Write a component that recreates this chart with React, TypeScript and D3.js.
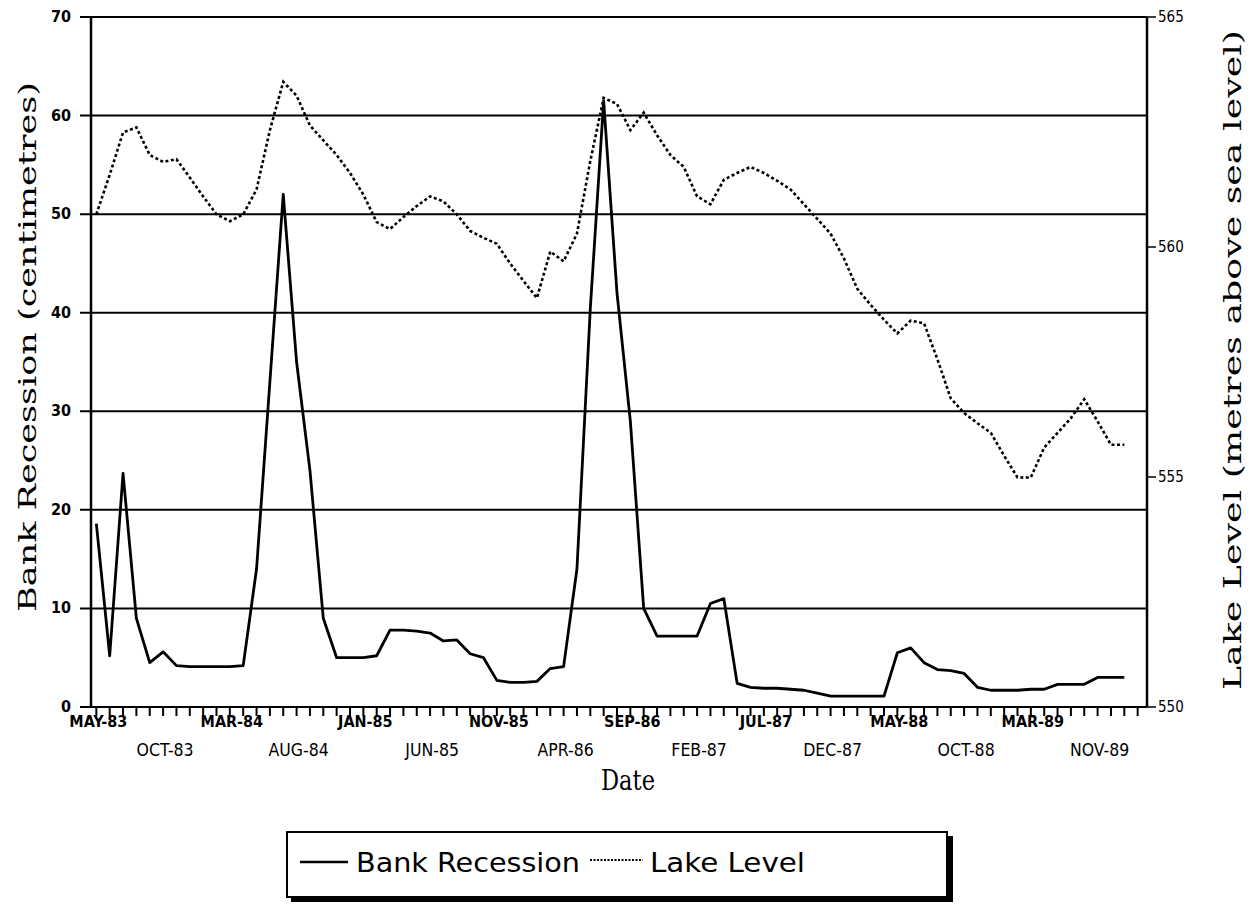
import React, { useEffect, useRef } from "react";
import * as d3 from "d3";

// tick labels under the x axis, one for every 5th reading
const DATE_LABELS = [
	"MAY-83", "OCT-83", "MAR-84", "AUG-84", "JAN-85", "JUN-85", "NOV-85", "APR-86",
	"SEP-86", "FEB-87", "JUL-87", "DEC-87", "MAY-88", "OCT-88", "MAR-89", "NOV-89",
];

// bank recession, centimetres (left axis)
const BANK_RECESSION = [
	18.6, 5.2, 23.7, 9.0, 4.5, 5.6, 4.2, 4.1, 4.1, 4.1,
	4.1, 4.2, 14.0, 33.0, 52.0, 35.0, 24.0, 9.0, 5.0, 5.0,
	5.0, 5.2, 7.8, 7.8, 7.7, 7.5, 6.7, 6.8, 5.4, 5.0,
	2.7, 2.5, 2.5, 2.6, 3.9, 4.1, 14.0, 40.4, 61.5, 42.0,
	29.0, 10.0, 7.2, 7.2, 7.2, 7.2, 10.5, 11.0, 2.4, 2.0,
	1.9, 1.9, 1.8, 1.7, 1.4, 1.1, 1.1, 1.1, 1.1, 1.1,
	5.5, 6.0, 4.5, 3.8, 3.7, 3.4, 2.0, 1.7, 1.7, 1.7,
	1.8, 1.8, 2.3, 2.3, 2.3, 3.0, 3.0, 3.0,
];

// lake level, metres above sea level (right axis)
const LAKE_LEVEL = [
	560.71, 561.57, 562.49, 562.6, 562.0, 561.85, 561.91, 561.51, 561.1, 560.71,
	560.56, 560.71, 561.25, 562.54, 563.59, 563.29, 562.64, 562.32, 562.0, 561.61,
	561.14, 560.54, 560.39, 560.65, 560.89, 561.1, 560.99, 560.71, 560.35, 560.2,
	560.07, 559.64, 559.26, 558.89, 559.9, 559.69, 560.29, 561.87, 563.24, 563.11,
	562.54, 562.92, 562.43, 562.0, 561.74, 561.1, 560.93, 561.46, 561.61, 561.74,
	561.61, 561.44, 561.25, 560.93, 560.61, 560.29, 559.75, 559.09, 558.74, 558.42,
	558.12, 558.4, 558.34, 557.56, 556.71, 556.39, 556.17, 555.96, 555.46, 554.99,
	554.99, 555.64, 555.96, 556.28, 556.69, 556.21, 555.7, 555.7,
];

const LEFT_TICKS = [0, 10, 20, 30, 40, 50, 60, 70];
const RIGHT_TICKS = [550, 555, 560, 565];
const N_TICKS = 79; // monthly tick marks along the x axis

const SANS = "'DejaVu Sans Condensed', 'Liberation Sans Narrow', 'DejaVu Sans', sans-serif";
const SERIF = "'DejaVu Serif', 'Liberation Serif', serif";

export default function App() {
	const ref = useRef<SVGSVGElement>(null);

	useEffect(() => {
		if (!ref.current) return;
		const svg = d3.select(ref.current);
		svg.selectAll("*").remove();

		const left = 91, right = 1147, top = 17, bottom = 707;

		const x = d3.scaleLinear().domain([-0.4, 78.7]).range([left, right]);
		const yL = d3.scaleLinear().domain([0, 70]).range([bottom, top]);
		const yR = d3.scaleLinear().domain([550, 565]).range([bottom, top]);

		// gridlines (with a short outward tick on the left)
		svg.append("g")
			.selectAll("line")
			.data(LEFT_TICKS)
			.enter()
			.append("line")
			.attr("x1", left - 11)
			.attr("x2", right)
			.attr("y1", (d) => yL(d))
			.attr("y2", (d) => yL(d))
			.attr("stroke", "#000")
			.attr("stroke-width", 2);

		svg.append("g")
			.selectAll("text")
			.data(LEFT_TICKS)
			.enter()
			.append("text")
			.attr("x", left - 20)
			.attr("y", (d) => yL(d) + 5)
			.attr("text-anchor", "end")
			.attr("font-family", SANS)
			.attr("font-weight", "bold")
			.attr("font-size", 16)
			.text((d) => d);

		// axes
		svg.append("line")
			.attr("x1", left).attr("x2", left)
			.attr("y1", top).attr("y2", bottom)
			.attr("stroke", "#000").attr("stroke-width", 2.5);
		svg.append("line")
			.attr("x1", right).attr("x2", right)
			.attr("y1", top).attr("y2", bottom)
			.attr("stroke", "#000").attr("stroke-width", 2.5);

		const rightAxis = svg.append("g")
			.selectAll("g")
			.data(RIGHT_TICKS)
			.enter()
			.append("g");
		rightAxis.append("line")
			.attr("x1", right).attr("x2", right + 9)
			.attr("y1", (d) => yR(d)).attr("y2", (d) => yR(d))
			.attr("stroke", "#000").attr("stroke-width", 1.5);
		rightAxis.append("text")
			.attr("x", right + 11)
			.attr("y", (d) => yR(d) + 5)
			.attr("font-family", SANS)
			.attr("font-size", 15)
			.text((d) => d);

		// monthly ticks
		svg.append("g")
			.selectAll("line")
			.data(d3.range(N_TICKS))
			.enter()
			.append("line")
			.attr("x1", (d) => x(d)).attr("x2", (d) => x(d))
			.attr("y1", bottom).attr("y2", bottom + 9)
			.attr("stroke", "#000").attr("stroke-width", 2);

		svg.append("g")
			.selectAll("text")
			.data(DATE_LABELS)
			.enter()
			.append("text")
			.attr("x", (d, i) => x(i * 5) + 2)
			.attr("y", (d, i) => (i % 2 === 0 ? 727 : 756))
			.attr("text-anchor", "middle")
			.attr("font-family", SANS)
			.attr("font-weight", (d, i) => (i % 2 === 0 ? "bold" : "normal"))
			.attr("font-size", (d, i) => (i % 2 === 0 ? 16 : 17.5))
			.text((d) => d);

		// series
		const bankLine = d3.line<number>()
			.x((d, i) => x(i))
			.y((d) => yL(d));
		const lakeLine = d3.line<number>()
			.x((d, i) => x(i))
			.y((d) => yR(d));

		svg.append("path")
			.attr("d", lakeLine(LAKE_LEVEL))
			.attr("fill", "none")
			.attr("stroke", "#000")
			.attr("stroke-width", 2.6)
			.attr("stroke-dasharray", "3,2.5");

		svg.append("path")
			.attr("d", bankLine(BANK_RECESSION))
			.attr("fill", "none")
			.attr("stroke", "#000")
			.attr("stroke-width", 2.8)
			.attr("stroke-linejoin", "round");

		// axis titles
		svg.append("text")
			.attr("transform", "translate(36,347) rotate(-90)")
			.attr("text-anchor", "middle")
			.attr("font-family", SERIF)
			.attr("font-size", 25)
			.attr("textLength", 530)
			.attr("lengthAdjust", "spacingAndGlyphs")
			.text("Bank Recession (centimetres)");

		svg.append("text")
			.attr("transform", "translate(1241,360) rotate(-90)")
			.attr("text-anchor", "middle")
			.attr("font-family", SERIF)
			.attr("font-size", 24)
			.attr("textLength", 660)
			.attr("lengthAdjust", "spacingAndGlyphs")
			.text("Lake Level (metres above sea level)");

		svg.append("text")
			.attr("x", 628)
			.attr("y", 790)
			.attr("text-anchor", "middle")
			.attr("font-family", SERIF)
			.attr("font-size", 27)
			.attr("textLength", 54)
			.attr("lengthAdjust", "spacingAndGlyphs")
			.text("Date");

		// legend with a drop shadow
		const lg = svg.append("g");
		lg.append("rect")
			.attr("x", 291).attr("y", 836)
			.attr("width", 662).attr("height", 66)
			.attr("fill", "#000");
		lg.append("rect")
			.attr("x", 287).attr("y", 832)
			.attr("width", 660).attr("height", 65)
			.attr("fill", "#fff")
			.attr("stroke", "#000")
			.attr("stroke-width", 2);
		lg.append("line")
			.attr("x1", 300).attr("x2", 348)
			.attr("y1", 862).attr("y2", 862)
			.attr("stroke", "#000").attr("stroke-width", 2.5);
		lg.append("text")
			.attr("x", 356).attr("y", 872)
			.attr("font-family", SANS)
			.attr("font-size", 27)
			.attr("textLength", 224)
			.attr("lengthAdjust", "spacingAndGlyphs")
			.text("Bank Recession");
		lg.append("line")
			.attr("x1", 590).attr("x2", 643)
			.attr("y1", 860).attr("y2", 860)
			.attr("stroke", "#000").attr("stroke-width", 2)
			.attr("stroke-dasharray", "2,1.5");
		lg.append("text")
			.attr("x", 650).attr("y", 872)
			.attr("font-family", SANS)
			.attr("font-size", 27)
			.attr("textLength", 155)
			.attr("lengthAdjust", "spacingAndGlyphs")
			.text("Lake Level");
	}, []);

	return (
		<svg
			ref={ref}
			width={1254}
			height={909}
			style={{ position: "absolute", left: 0, top: 0, background: "#fff" }}
		/>
	);
}
